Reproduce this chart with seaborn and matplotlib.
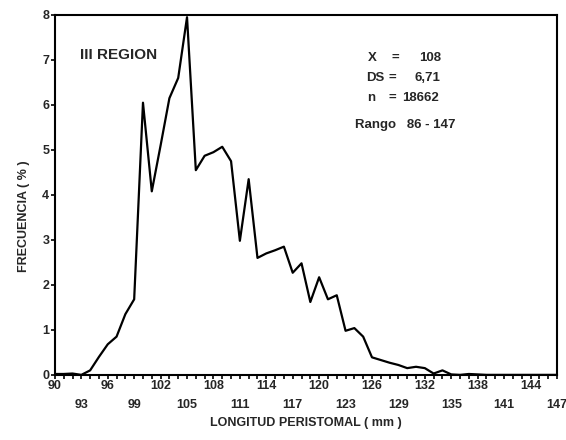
import matplotlib
matplotlib.use("Agg")
import matplotlib.pyplot as plt
import numpy as np
import pandas as pd
import seaborn as sns

# longitud peristomal (mm) y frecuencia (%)
longitud = list(range(90, 148))
frecuencia = [0.02, 0.02, 0.03, 0.0, 0.1, 0.4, 0.68, 0.85, 1.35, 1.68,
              6.05, 4.08, 5.1, 6.15, 6.6, 7.95, 4.55, 4.87, 4.95, 5.07,
              4.75, 2.98, 4.35, 2.6, 2.7, 2.77, 2.85, 2.27, 2.48, 1.62,
              2.17, 1.68, 1.77, 0.98, 1.04, 0.85, 0.39, 0.33, 0.27, 0.22,
              0.15, 0.18, 0.15, 0.03, 0.1, 0.01, 0.0, 0.02, 0.01, 0.0,
              0.0, 0.0, 0.0, 0.0, 0.0, 0.0, 0.0, 0.0]

xticks_major = list(range(90, 148, 3))
yticks = list(range(0, 9))

df = pd.DataFrame({"longitud": longitud, "frecuencia": frecuencia})

sns.set_style("ticks")
plt.rcParams['font.family'] = ['Liberation Sans', 'DejaVu Sans']
plt.rcParams['font.weight'] = 'bold'

fig = plt.figure(figsize=(5.66, 4.4), dpi=100)
ax = fig.add_axes([0.097, 0.148, 0.887, 0.818])

sns.lineplot(data=df, x="longitud", y="frecuencia", color="black", linewidth=1.6, ax=ax)

ax.set_xlim(90, 147)
ax.set_ylim(0, 8)

labels = []
for i, t in enumerate(xticks_major):
    labels.append(str(t) if i % 2 == 0 else "\n" + str(t))
ax.set_xticks(xticks_major)
ax.set_xticklabels(labels, fontsize=9, fontweight="bold")
for lab in ax.get_xticklabels():
    lab.set_linespacing(1.75)
ax.set_xticks(range(90, 148), minor=True)
ax.set_yticks(yticks)
ax.set_yticklabels([str(t) for t in yticks], fontsize=9, fontweight="bold")
ax.tick_params(axis="both", which="major", length=3, width=1.2, pad=1, color="black")
ax.tick_params(axis="x", which="minor", length=3, width=1.2, color="black")

for s in ax.spines.values():
    s.set_linewidth(1.5)
    s.set_color("black")

ax.set_xlabel("LONGITUD PERISTOMAL ( mm )", fontsize=9, fontweight="bold", labelpad=4)
ax.set_ylabel("FRECUENCIA ( % )", fontsize=9, fontweight="bold")
ax.yaxis.set_label_coords(-0.05, 0.44)

ax.text(92.8, 7.1, "III REGION", fontsize=11, fontweight="bold", va="center")
ax.text(125.5, 7.04, "X", fontsize=9.5, fontweight="bold", va="center")
ax.text(125.3, 6.6, "DS", fontsize=9.5, fontweight="bold", va="center")
ax.text(125.5, 6.16, "n", fontsize=9.5, fontweight="bold", va="center")
ax.text(128.6, 7.04, "=", fontsize=9.5, fontweight="bold", va="center", ha="center")
ax.text(128.3, 6.6, "=", fontsize=9.5, fontweight="bold", va="center", ha="center")
ax.text(128.3, 6.16, "=", fontsize=9.5, fontweight="bold", va="center", ha="center")
ax.text(133.8, 7.04, "108", fontsize=9.5, fontweight="bold", va="center", ha="right")
ax.text(133.8, 6.6, "6,71", fontsize=9.5, fontweight="bold", va="center", ha="right")
ax.text(129.4, 6.16, "18662", fontsize=9.5, fontweight="bold", va="center", ha="left")
ax.text(124.1, 5.56, "Rango   86 - 147", fontsize=9.5, fontweight="bold", va="center")

fig.savefig("out.png", dpi=100)
